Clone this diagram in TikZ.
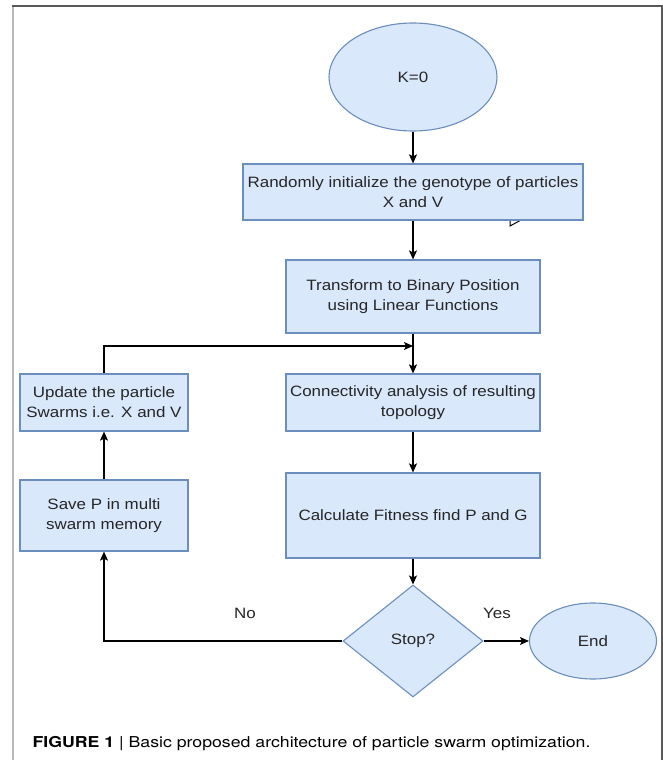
\documentclass[tikz,border=0pt]{standalone}
\usepackage{fontspec}
\setmainfont{Liberation Sans}[FakeStretch=1.13]
\newfontfamily\capfont{TeX Gyre Heros}[FakeStretch=1.18]
\usetikzlibrary{shapes}
\usetikzlibrary{arrows.meta}
\usetikzlibrary{positioning}
\definecolor{boxfill}{HTML}{DAE8FC}
\definecolor{boxline}{HTML}{6C8EBF}
\definecolor{txtgray}{HTML}{262626}

\begin{document}
\begin{tikzpicture}[x=1pt,y=-1pt,
  every node/.style={font=\fontsize{15}{20}\selectfont,text=txtgray},
  procbox/.style={rectangle,draw=boxline,fill=boxfill,line width=1.2pt,inner sep=0pt,align=center},
  termnode/.style={ellipse,draw=boxline,fill=boxfill,line width=1.1pt,inner sep=0pt},
  decnode/.style={diamond,draw=boxline,fill=boxfill,line width=1.1pt,inner sep=0pt},
  flow/.style={line width=1.3pt,-{Stealth[length=9pt,width=8pt,inset=2pt]}}]
  \useasboundingbox (0,0) rectangle (663,760);
  % frame
  \draw[line width=2pt,black!28] (12.5,6) -- (12.5,760);
  \draw[line width=2pt,black!65] (12,6) -- (662,6) -- (662,760);
  % stray mark under the first box
  \draw[line width=1pt] (523,219) -- (510,226) -- (510,216);

  \node[termnode,minimum width=168,minimum height=108] (start) at (413,77) {K=0};
  \node[procbox,minimum width=340,minimum height=56] (init) at (413,192)
    {Randomly initialize the genotype of particles\\X and V};
  \node[procbox,minimum width=254,minimum height=73] (trans) at (413,296.5)
    {Transform to Binary Position\\using Linear Functions};
  \node[procbox,minimum width=254,minimum height=57] (conn) at (413,402.5)
    {Connectivity analysis of resulting\\topology};
  \node[procbox,minimum width=254,minimum height=85] (calc) at (413,515.5)
    {Calculate Fitness find P and G};
  \node[procbox,minimum width=168,minimum height=57] (update) at (104,402.5)
    {Update the particle\\Swarms i.e. X and V};
  \node[procbox,minimum width=168,minimum height=71] (save) at (104,515.5)
    {Save P in multi\\swarm memory};
  \node[decnode,minimum width=140,minimum height=112] (stop) at (413,641) {Stop?};
  \node[termnode,minimum width=127,minimum height=76] (finish) at (593,641) {End};
  \coordinate (join) at (413,346);

  \draw[flow] (start) -- (init);
  \draw[flow] (init) -- (trans);
  \draw[flow] (trans) -- (conn);
  \draw[flow] (conn) -- (calc);
  \draw[flow] (calc) -- (stop);
  \draw[flow] (stop) -- (finish);
  \draw[flow] (save) -- (update);
  \draw[flow] (update.north) |- (join);
  \draw[flow] (stop.west) -| (save.south);
  \node (nolbl) at (245,613) {No};
  \node (yeslbl) at (497,613) {Yes};

  \node[anchor=base west,font=\capfont\fontsize{15}{18}\selectfont,text=black] (caption) at (29,747)
    {\textbf{FIGURE 1} | Basic proposed architecture of particle swarm optimization.};
\end{tikzpicture}
\end{document}
